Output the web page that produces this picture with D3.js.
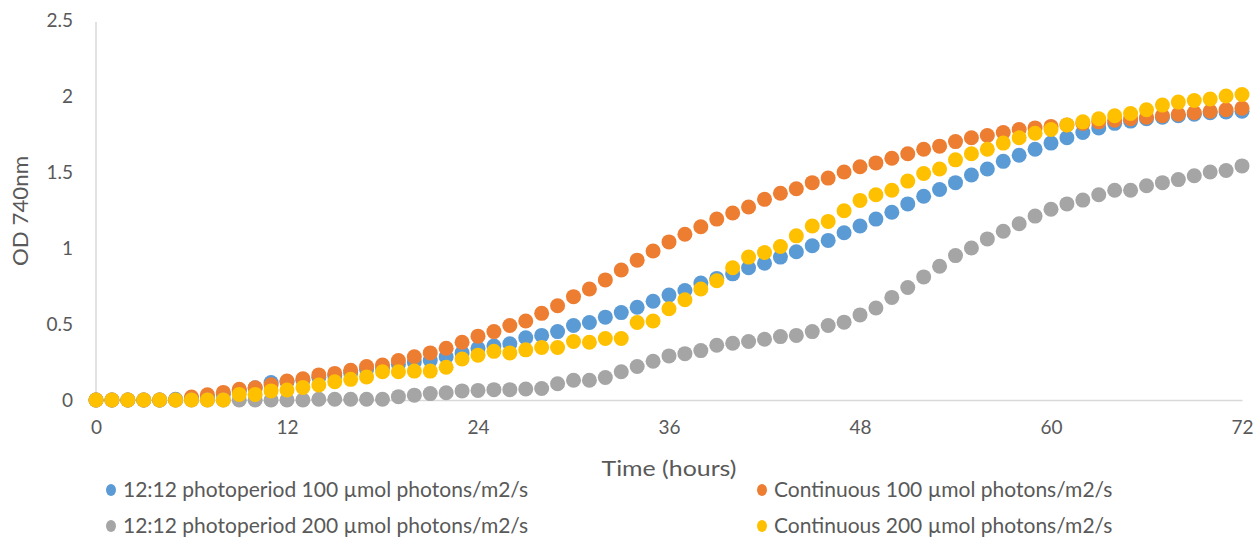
<!DOCTYPE html>
<html>
<head>
<meta charset="utf-8">
<script src="https://cdn.jsdelivr.net/npm/d3@7"></script>
<style>
  body { margin: 0; background: #fff; }
  text { font-family: Lato, "Open Sans", sans-serif; fill: #595959; }
</style>
</head>
<body>
<div id="chart"></div>
<script>
// hours of measurement
const hours = [0, 1, 2, 3, 4, 5, 6, 7, 8, 9, 10, 11, 12, 13, 14, 15, 16, 17, 18, 19, 20, 21, 22, 23, 24,
    25, 26, 27, 28, 29, 30, 31, 32, 33, 34, 35, 36, 37, 38, 39, 40, 41, 42, 43, 44, 45, 46, 47, 48,
    49, 50, 51, 52, 53, 54, 55, 56, 57, 58, 59, 60, 61, 62, 63, 64, 65, 66, 67, 68, 69, 70, 71, 72];

// OD 740nm readings
const photo100 = [0, 0, 0, 0, 0, 0.005, 0.01, 0.02, 0.04, 0.06, 0.08, 0.115, 0.12, 0.13, 0.15, 0.16, 0.18, 0.2, 0.21, 0.235,
    0.25, 0.26, 0.285, 0.31, 0.34, 0.355, 0.37, 0.41, 0.425, 0.45, 0.49, 0.51, 0.545, 0.575, 0.61, 0.65, 0.69, 0.72, 0.77, 0.8,
    0.83, 0.87, 0.9, 0.94, 0.975, 1.015, 1.05, 1.1, 1.145, 1.19, 1.235, 1.29, 1.34, 1.385, 1.43, 1.48, 1.52, 1.57, 1.61, 1.65,
    1.69, 1.725, 1.76, 1.79, 1.82, 1.835, 1.85, 1.86, 1.87, 1.88, 1.89, 1.895, 1.9];
const cont100 = [0, 0, 0, 0, 0, 0, 0.02, 0.035, 0.05, 0.07, 0.08, 0.1, 0.125, 0.14, 0.165, 0.175, 0.195, 0.22, 0.23, 0.26,
    0.285, 0.31, 0.34, 0.38, 0.42, 0.45, 0.49, 0.52, 0.57, 0.62, 0.68, 0.73, 0.79, 0.855, 0.92, 0.98, 1.04, 1.09, 1.14, 1.19,
    1.23, 1.27, 1.32, 1.36, 1.39, 1.43, 1.46, 1.5, 1.535, 1.56, 1.59, 1.62, 1.65, 1.67, 1.7, 1.725, 1.74, 1.76, 1.78, 1.79,
    1.8, 1.81, 1.82, 1.83, 1.84, 1.85, 1.86, 1.87, 1.88, 1.89, 1.9, 1.91, 1.92];
const photo200 = [0, 0, 0, 0, 0, 0, 0, 0, 0, 0, 0, 0, 0, 0, 0.005, 0.005, 0.005, 0.005, 0.005, 0.022,
    0.032, 0.042, 0.048, 0.06, 0.063, 0.068, 0.068, 0.072, 0.076, 0.107, 0.13, 0.13, 0.148, 0.186, 0.22, 0.255, 0.29, 0.305, 0.325, 0.36,
    0.373, 0.385, 0.4, 0.417, 0.425, 0.45, 0.49, 0.512, 0.56, 0.605, 0.675, 0.74, 0.81, 0.88, 0.95, 1.0, 1.06, 1.11, 1.16, 1.21,
    1.255, 1.29, 1.315, 1.35, 1.38, 1.38, 1.41, 1.43, 1.45, 1.475, 1.5, 1.51, 1.54];
const cont200 = [0, 0, 0, 0, 0, 0, 0, 0, 0, 0.037, 0.037, 0.06, 0.066, 0.083, 0.099, 0.12, 0.136, 0.152, 0.186, 0.186,
    0.19, 0.19, 0.215, 0.27, 0.295, 0.32, 0.31, 0.33, 0.345, 0.345, 0.385, 0.38, 0.405, 0.405, 0.51, 0.52, 0.6, 0.66, 0.73, 0.785,
    0.87, 0.94, 0.97, 1.01, 1.08, 1.145, 1.175, 1.245, 1.313, 1.35, 1.38, 1.44, 1.49, 1.52, 1.58, 1.62, 1.65, 1.69, 1.725, 1.755,
    1.78, 1.81, 1.83, 1.85, 1.87, 1.885, 1.91, 1.94, 1.96, 1.97, 1.98, 2.0, 2.01];

const seriesNames = [
    "12:12 photoperiod 100 µmol photons/m2/s",
    "Continuous 100 µmol photons/m2/s",
    "12:12 photoperiod 200 µmol photons/m2/s",
    "Continuous 200 µmol photons/m2/s"
];
const seriesColors = ["#5b9bd5", "#ed7d31", "#a5a5a5", "#ffc000"];
const seriesValues = [photo100, cont100, photo200, cont200];

const xTicks = [0, 12, 24, 36, 48, 60, 72];
const yTicks = [0, 0.5, 1, 1.5, 2, 2.5];

const width = 1259, height = 539;
const margin = { top: 20, right: 17, bottom: 139, left: 96 };
const innerW = width - margin.left - margin.right;
const innerH = height - margin.top - margin.bottom;

const svg = d3.select("#chart").append("svg")
    .attr("width", width)
    .attr("height", height);

const g = svg.append("g")
    .attr("transform", `translate(${margin.left}, ${margin.top})`);

const x = d3.scaleLinear().domain([0, 72]).range([0, innerW]);
const y = d3.scaleLinear().domain([0, 2.5]).range([innerH, 0]);

// axes
const yAxis = g.append("g")
    .call(d3.axisLeft(y).tickValues(yTicks).tickSize(0).tickPadding(23).tickFormat(d => String(d)));
const xAxis = g.append("g")
    .attr("transform", `translate(0, ${innerH})`)
    .call(d3.axisBottom(x).tickValues(xTicks).tickSize(0).tickPadding(21));

[xAxis, yAxis].forEach(a => {
    a.select(".domain").attr("stroke", "#d9d9d9").attr("stroke-width", 1.5);
    a.selectAll("text").style("font-size", "19px").attr("fill", "#595959");
});
yAxis.select(".domain").attr("d", `M0,${innerH}V2`);

// axis titles
g.append("text")
    .attr("x", innerW / 2)
    .attr("y", innerH + 76)
    .attr("text-anchor", "middle")
    .style("font-size", "22px")
    .attr("textLength", 135)
    .attr("lengthAdjust", "spacingAndGlyphs")
    .text("Time (hours)");

g.append("text")
    .attr("transform", `translate(${-margin.left + 28}, ${innerH / 2 + 1}) rotate(-90)`)
    .attr("text-anchor", "middle")
    .style("font-size", "22px")
    .attr("textLength", 110)
    .attr("lengthAdjust", "spacingAndGlyphs")
    .text("OD 740nm");

// markers
seriesValues.forEach((vals, i) => {
    g.append("g").selectAll("circle")
        .data(hours.map((h, j) => ({ h, v: vals[j] })))
        .enter()
        .append("circle")
        .attr("cx", d => x(d.h))
        .attr("cy", d => y(d.v))
        .attr("r", 7.5)
        .attr("fill", seriesColors[i]);
});

// legend
const legendPos = [[111, 490], [762, 490], [111, 526], [762, 526]];
const legend = svg.append("g");
seriesNames.forEach((name, i) => {
    const [lx, ly] = legendPos[i];
    legend.append("ellipse")
        .attr("cx", lx).attr("cy", ly)
        .attr("rx", 5).attr("ry", 6)
        .attr("fill", seriesColors[i]);
    legend.append("text")
        .attr("x", lx + 12).attr("y", ly + 7)
        .style("font-size", "21px")
        .text(name);
});
</script>
</body>
</html>
